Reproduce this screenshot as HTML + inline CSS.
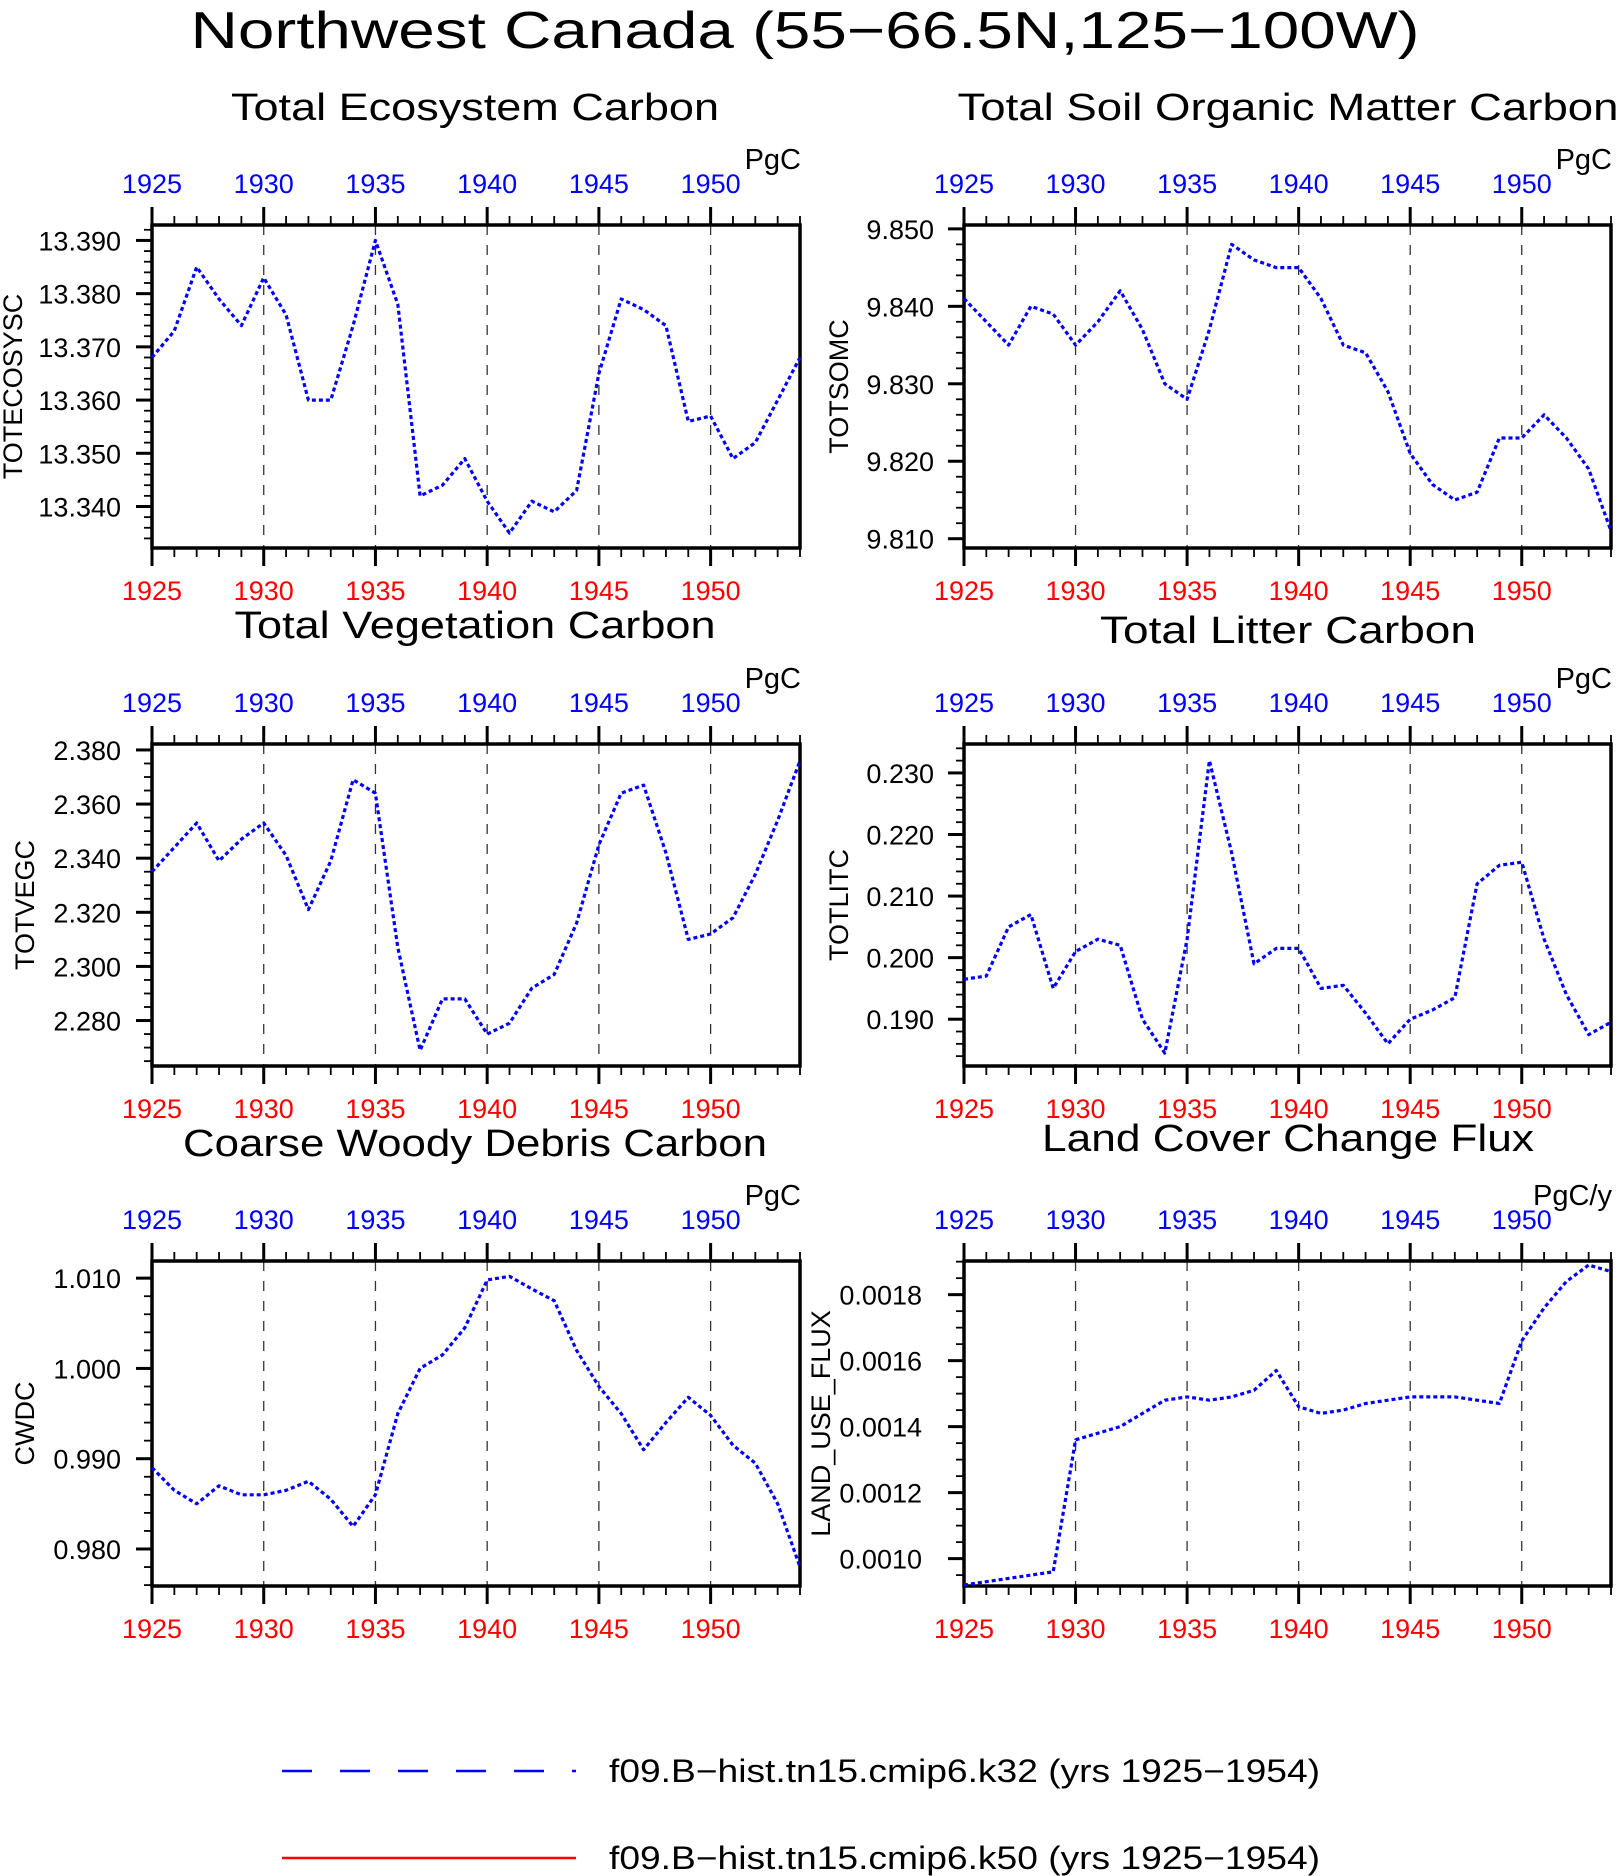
<!DOCTYPE html>
<html><head><meta charset="utf-8"><style>
html,body{margin:0;padding:0;background:#fff;}
svg{display:block;font-family:"Liberation Sans","DejaVu Sans",sans-serif;}
</style></head><body>
<svg id="fig" width="1618" height="1876" viewBox="0 0 1618 1876" xmlns="http://www.w3.org/2000/svg">
<text x="805" y="48" font-size="52" text-anchor="middle" textLength="1229" lengthAdjust="spacingAndGlyphs" fill="#000">Northwest Canada (55−66.5N,125−100W)</text>
<g>
<line x1="282" y1="1771" x2="576" y2="1771" stroke="#0000ff" stroke-width="2.5" stroke-dasharray="30 28"/>
<text x="609" y="1782" font-size="32" textLength="711" lengthAdjust="spacingAndGlyphs">f09.B−hist.tn15.cmip6.k32 (yrs 1925−1954)</text>
<line x1="282" y1="1858" x2="576" y2="1858" stroke="#ff0000" stroke-width="2.5"/>
<text x="609" y="1869" font-size="32" textLength="711" lengthAdjust="spacingAndGlyphs">f09.B−hist.tn15.cmip6.k50 (yrs 1925−1954)</text>
</g>
</svg>
<script>
const years = [1925,1926,1927,1928,1929,1930,1931,1932,1933,1934,1935,1936,1937,1938,1939,1940,1941,1942,1943,1944,1945,1946,1947,1948,1949,1950,1951,1952,1953,1954];
const yearTicks = [1925,1930,1935,1940,1945,1950];
const totEcoSys = [13.368,13.373,13.385,13.379,13.374,13.383,13.376,13.360,13.360,13.374,13.390,13.378,13.342,13.344,13.349,13.341,13.335,13.341,13.339,13.343,13.365,13.379,13.377,13.374,13.356,13.357,13.349,13.352,13.360,13.368];
const totSomc = [9.841,9.838,9.835,9.840,9.839,9.835,9.838,9.842,9.837,9.830,9.828,9.837,9.848,9.846,9.845,9.845,9.841,9.835,9.834,9.829,9.821,9.817,9.815,9.816,9.823,9.823,9.826,9.823,9.819,9.811];
const totVegc = [2.335,2.344,2.353,2.339,2.347,2.353,2.341,2.321,2.339,2.369,2.364,2.307,2.269,2.288,2.288,2.275,2.279,2.292,2.297,2.316,2.345,2.364,2.367,2.342,2.310,2.312,2.318,2.334,2.354,2.376];
const totLitc = [0.1965,0.197,0.205,0.207,0.195,0.201,0.203,0.202,0.190,0.1845,0.203,0.232,0.217,0.199,0.2015,0.2015,0.195,0.1955,0.191,0.186,0.190,0.1915,0.1935,0.212,0.215,0.2155,0.203,0.194,0.1875,0.1895];
const cwdc = [0.989,0.9865,0.985,0.987,0.986,0.986,0.9865,0.9875,0.9855,0.9825,0.986,0.995,1.000,1.0015,1.0045,1.0098,1.0102,1.0088,1.0075,1.002,0.998,0.995,0.991,0.994,0.9968,0.9948,0.9915,0.9895,0.985,0.978];
const landUse = [0.00092,0.00093,0.00094,0.00095,0.00096,0.00136,0.00138,0.00140,0.00144,0.00148,0.00149,0.00148,0.00149,0.00151,0.00157,0.00146,0.00144,0.00145,0.00147,0.00148,0.00149,0.00149,0.00149,0.00148,0.00147,0.00166,0.00176,0.00184,0.00189,0.00187];
const ticksEco = [13.340,13.350,13.360,13.370,13.380,13.390];
const ticksSom = [9.810,9.820,9.830,9.840,9.850];
const ticksVeg = [2.280,2.300,2.320,2.340,2.360,2.380];
const ticksLit = [0.190,0.200,0.210,0.220,0.230];
const ticksCwd = [0.980,0.990,1.000,1.010];
const ticksLuf = [0.0010,0.0012,0.0014,0.0016,0.0018];

const NS='http://www.w3.org/2000/svg';
const svg=document.getElementById('fig');
function mk(tag,attrs,parent){const e=document.createElementNS(NS,tag);for(const k in attrs)e.setAttribute(k,attrs[k]);(parent||svg).appendChild(e);return e;}

const panels=[
 {key:'ecosystem',title:'Total Ecosystem Carbon',tx:475,ty:120,tw:488,x0:152,x1:800,y0:225,y1:548,ymin:13.3322,ymax:13.3929,data:totEcoSys,ticks:ticksEco,minor:0.002,dec:3,ylab:'TOTECOSYSC',unit:'PgC',lx:12,tickX:121},
 {key:'soil',title:'Total Soil Organic Matter Carbon',tx:1288,ty:120,tw:661,x0:964,x1:1611,y0:225,y1:548,ymin:9.8088,ymax:9.8505,data:totSomc,ticks:ticksSom,minor:0.002,dec:3,ylab:'TOTSOMC',unit:'PgC',lx:838,tickX:934},
 {key:'vegetation',title:'Total Vegetation Carbon',tx:475,ty:638,tw:481,x0:152,x1:800,y0:744,y1:1066,ymin:2.2632,ymax:2.3822,data:totVegc,ticks:ticksVeg,minor:0.005,dec:3,ylab:'TOTVEGC',unit:'PgC',lx:24,tickX:121},
 {key:'litter',title:'Total Litter Carbon',tx:1288,ty:643,tw:376,x0:964,x1:1611,y0:744,y1:1066,ymin:0.1824,ymax:0.2347,data:totLitc,ticks:ticksLit,minor:0.002,dec:3,ylab:'TOTLITC',unit:'PgC',lx:838,tickX:934},
 {key:'cwd',title:'Coarse Woody Debris Carbon',tx:475,ty:1156,tw:584,x0:152,x1:800,y0:1261,y1:1586,ymin:0.9759,ymax:1.0119,data:cwdc,ticks:ticksCwd,minor:0.002,dec:3,ylab:'CWDC',unit:'PgC',lx:24,tickX:121},
 {key:'landuse',title:'Land Cover Change Flux',tx:1288,ty:1151,tw:492,x0:964,x1:1611,y0:1261,y1:1586,ymin:0.000917,ymax:0.001902,data:landUse,ticks:ticksLuf,minor:0.00005,dec:4,ylab:'LAND_USE_FLUX',unit:'PgC/y',lx:820,tickX:922}
];

panels.forEach(p=>{
 const g=mk('g',{});
 
 
 const X=yr=>p.x0+(yr-1925)*(p.x1-p.x0)/29;
 const Y=v=>p.y1-(v-p.ymin)*(p.y1-p.y0)/(p.ymax-p.ymin);
 const t=mk('text',{x:p.tx,y:p.ty,'font-size':38,'text-anchor':'middle',textLength:p.tw,lengthAdjust:'spacingAndGlyphs'},g);
 t.textContent=p.title;
 
 
 yearTicks.forEach(yr=>{if(yr>1925){const l=mk('line',{x1:X(yr),x2:X(yr),y1:p.y0,y2:p.y1,stroke:'#333','stroke-width':1.3,'stroke-dasharray':'10 10'},g);
  
  }});
 years.forEach(yr=>{const maj=yr%5===0;const len=maj?18:9;const w=maj?3:1.8;
  mk('line',{x1:X(yr),x2:X(yr),y1:p.y0,y2:p.y0-len,stroke:'#000','stroke-width':w},g);
  mk('line',{x1:X(yr),x2:X(yr),y1:p.y1,y2:p.y1+len,stroke:'#000','stroke-width':w},g);});
 yearTicks.forEach(yr=>{
  const a=mk('text',{x:X(yr),y:p.y0-32,'font-size':27,fill:'#0000ff','text-anchor':'middle'},g);a.textContent=yr;
  
  
  const b=mk('text',{x:X(yr),y:p.y1+52,'font-size':27,fill:'#ff0000','text-anchor':'middle'},g);b.textContent=yr;
  
  });
 const n0=Math.ceil(p.ymin/p.minor),n1=Math.floor(p.ymax/p.minor);
 for(let n=n0;n<=n1;n++){mk('line',{x1:p.x0,x2:p.x0-8,y1:Y(n*p.minor),y2:Y(n*p.minor),stroke:'#000','stroke-width':1.8},g);}
 p.ticks.forEach(v=>{mk('line',{x1:p.x0,x2:p.x0-16,y1:Y(v),y2:Y(v),stroke:'#000','stroke-width':3},g);
  const l=mk('text',{x:p.tickX,y:Y(v)+10,'font-size':27,'text-anchor':'end'},g);l.textContent=v.toFixed(p.dec);
  
  });
 const fr=mk('rect',{x:p.x0,y:p.y0,width:p.x1-p.x0,height:p.y1-p.y0,fill:'none',stroke:'#000','stroke-width':3.5},g);
 
 
 const cy=(p.y0+p.y1)/2;
 const yl=mk('text',{x:p.lx,y:cy,'font-size':27,'text-anchor':'middle',transform:`rotate(-90 ${p.lx} ${cy}) translate(0 10)`},g);yl.textContent=p.ylab;
 
 
 const u=mk('text',{x:p.x1+1,y:p.y0-56,'font-size':29,'text-anchor':'end'},g);u.textContent=p.unit;
 
 
 const pts=p.data.map((v,i)=>X(years[i]).toFixed(1)+','+Y(v).toFixed(1)).join(' ');
 const pl=mk('polyline',{points:pts,fill:'none',stroke:'#0000ff','stroke-width':3.2,'stroke-dasharray':'4 3','stroke-linejoin':'round'},g);
 
 
});
</script>
</body></html>
